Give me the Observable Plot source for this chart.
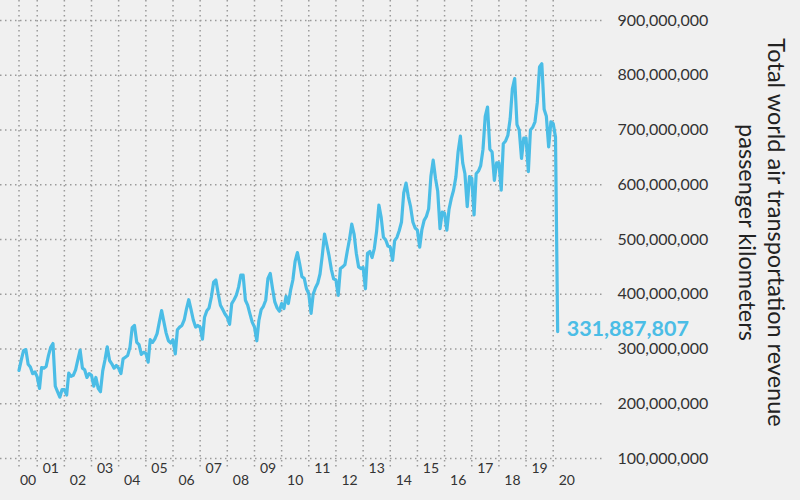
<!DOCTYPE html>
<html>
<head>
<meta charset="utf-8">
<script src="https://cdn.jsdelivr.net/npm/d3@7"></script>
<script src="https://cdn.jsdelivr.net/npm/@observablehq/plot@0.6"></script>
<style>
  html, body { margin: 0; padding: 0; background: #f0f0f0; }
  #chart { width: 800px; height: 500px; }
</style>
</head>
<body>
<div id="chart"></div>
<script>
// ---- data (monthly, starting May 2000), values in millions of RPK ----
const firstYear = 2000;
const firstMonthIndex = 4; // May
const rpkMillions = [
  /*2000*/ 261, 280, 297, 299, 272, 267, 255, 258,
  /*2001*/ 249, 228, 266, 265, 268, 288, 303, 310, 232, 222, 212, 226,
  /*2002*/ 226, 216, 256, 250, 252, 262, 280, 298, 265, 262, 248, 255,
  /*2003*/ 252, 232, 248, 228, 222, 260, 280, 304, 279, 273, 265, 270,
  /*2004*/ 265, 255, 282, 285, 288, 303, 339, 343, 312, 308, 290, 294,
  /*2005*/ 292, 276, 317, 312, 318, 328, 349, 370, 349, 329, 315, 311,
  /*2006*/ 317, 291, 335, 340, 343, 353, 373, 390, 372, 353, 340, 343,
  /*2007*/ 340, 318, 358, 370, 375, 395, 422, 426, 401, 380, 372, 364,
  /*2008*/ 358, 345, 383, 390, 398, 413, 435, 435, 389, 380, 364, 349,
  /*2009*/ 340, 315, 352, 372, 378, 389, 429, 438, 410, 386, 375, 369,
  /*2010*/ 383, 374, 396, 383, 407, 426, 460, 476, 455, 432, 429, 410,
  /*2011*/ 401, 365, 400, 412, 420, 437, 470, 510, 490, 470, 445, 428,
  /*2012*/ 426, 398, 447, 450, 454, 478, 500, 528, 510, 475, 450, 447,
  /*2013*/ 449, 410, 475, 478, 467, 484, 515, 563, 540, 504, 499, 488,
  /*2014*/ 486, 462, 498, 504, 516, 532, 585, 603, 578, 560, 532, 521,
  /*2015*/ 517, 486, 517, 535, 542, 556, 615, 645, 612, 588, 520, 550,
  /*2016*/ 548, 517, 555, 575, 590, 614, 660, 689, 640, 620, 560, 615,
  /*2017*/ 612, 545, 620, 625, 635, 665, 725, 742, 665, 660, 608, 640,
  /*2018*/ 640, 590, 675, 680, 690, 720, 775, 794, 710, 700, 648, 685,
  /*2019*/ 685, 624, 700, 705, 715, 750, 815, 821, 738, 725, 669, 715,
  /*2020*/ 712, 687, 331.887807
];
const yTicks = [100e6, 200e6, 300e6, 400e6, 500e6, 600e6, 700e6, 800e6, 900e6];
const yearLabels = ["00","01","02","03","04","05","06","07","08","09","10",
                    "11","12","13","14","15","16","17","18","19","20"];
const axisTitle = "Total world air transportation revenue\npassenger kilometers";

// ---- build table ----
const data = rpkMillions.map((v, i) => ({
  date: new Date(Date.UTC(firstYear, firstMonthIndex + i, 1)),
  value: v * 1e6
}));
const firstDate = data[0].date;
const last = data[data.length - 1];

const yearStarts = yearLabels.map((l, i) => new Date(Date.UTC(firstYear + i, 0, 1)));
const gridDates = [firstDate, ...yearStarts.slice(1)];
const labelRows = yearLabels.map((l, i) => {
  const s = Math.max(+yearStarts[i], +firstDate);
  const e = Date.UTC(firstYear + i + 1, 0, 1);
  return { date: new Date((s + e) / 2), label: l, odd: i % 2 === 1 };
});

const blue = "#4bbde6";
const grid = "#9a9a9a";

const chart = Plot.plot({
  width: 800,
  height: 500,
  marginLeft: 0,
  marginRight: 195,
  marginTop: 20,
  marginBottom: 42,
  style: { background: "#f0f0f0", fontFamily: "Lato, 'Open Sans', sans-serif", color: "#333" },
  x: { type: "utc", domain: [yearStarts[0], yearStarts[20]], range: [9.5, 552.7], axis: null },
  y: { domain: [100e6, 900e6], axis: null },
  marks: [
    Plot.ruleY(yTicks, { stroke: grid, strokeWidth: 1.5, strokeDasharray: "1.5,3.5" }),
    Plot.ruleX(gridDates, { stroke: grid, strokeWidth: 1.5, strokeDasharray: "1.5,3.5", insetTop: -20, insetBottom: -10 }),
    Plot.axisY(yTicks, { anchor: "right", tickSize: 0, tickPadding: 12, fontSize: 16, label: null,
                         tickFormat: d3.format(","), fill: "#333" }),
    Plot.text(labelRows.filter(d => d.odd), { x: "date", text: "label", frameAnchor: "bottom", dy: 14, fontSize: 14, fill: "#333" }),
    Plot.text(labelRows.filter(d => !d.odd), { x: "date", text: "label", frameAnchor: "bottom", dy: 26, fontSize: 14, fill: "#333" }),
    Plot.line(data, { x: "date", y: "value", stroke: blue, strokeWidth: 3.2, strokeLinejoin: "round", strokeLinecap: "round" }),
    Plot.text([last], { x: "date", y: "value", text: d => d3.format(",")(Math.round(d.value)),
                        dx: 9, dy: -2, textAnchor: "start", fill: blue, fontWeight: "bold", fontSize: 21.5 }),
    Plot.text([axisTitle], { frameAnchor: "right", rotate: 90, dx: 157.5, dy: -7, textAnchor: "middle",
                             fontSize: 23.5, lineHeight: 1.23, fill: "#222" })
  ]
});
document.getElementById("chart").appendChild(chart);
</script>
</body>
</html>
